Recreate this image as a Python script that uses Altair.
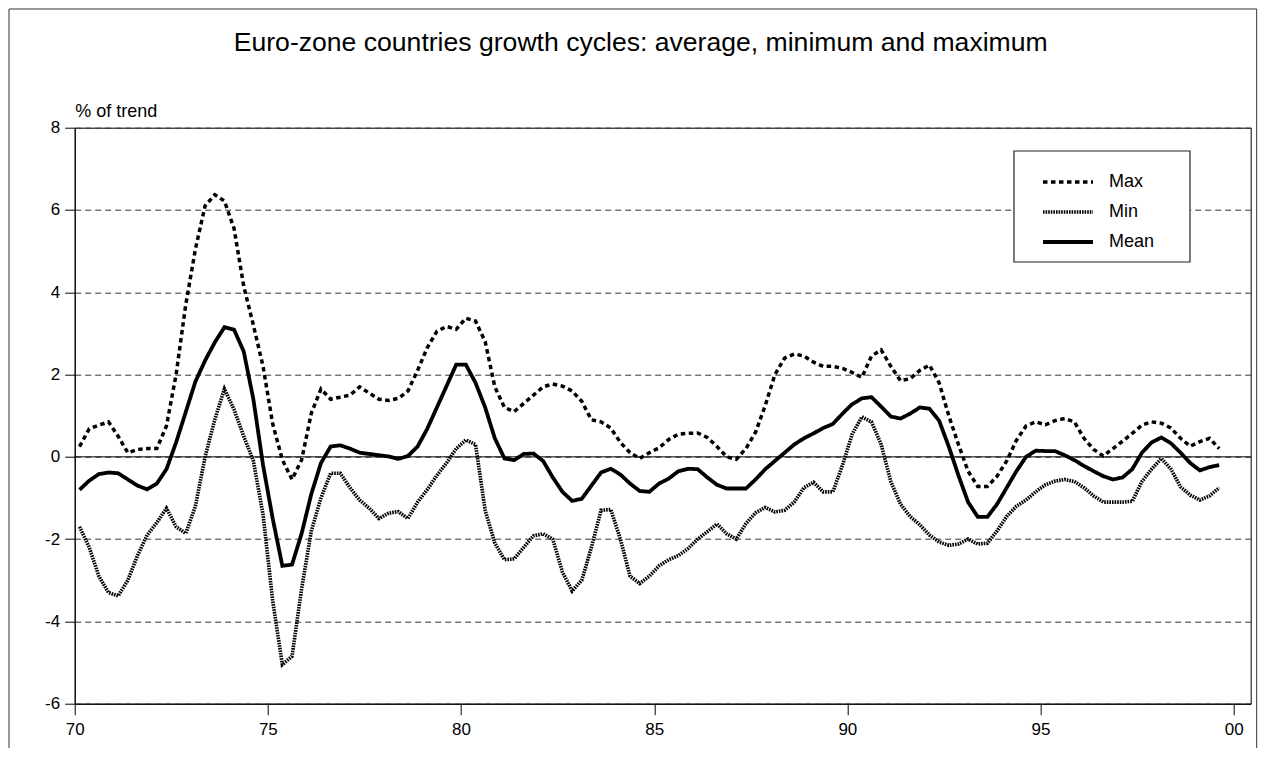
import altair as alt
import pandas as pd

# Quarterly data, 1970Q1 .. 1999Q3 (% of trend)
mean = [
    -0.80, -0.58, -0.42, -0.38, -0.40, -0.55, -0.70, -0.79, -0.65, -0.30,
    0.35, 1.09, 1.83, 2.34, 2.78, 3.15, 3.09, 2.56, 1.40, -0.20,
    -1.50, -2.65, -2.62, -1.86, -0.90, -0.15, 0.25, 0.28, 0.20, 0.10,
    0.07, 0.04, 0.01, -0.05, 0.02, 0.25, 0.68, 1.20, 1.72, 2.24,
    2.24, 1.80, 1.20, 0.45, -0.04, -0.08, 0.07, 0.08, -0.10, -0.50,
    -0.85, -1.07, -1.02, -0.70, -0.38, -0.29, -0.43, -0.65, -0.83, -0.85,
    -0.65, -0.53, -0.35, -0.29, -0.30, -0.50, -0.68, -0.77, -0.77, -0.77,
    -0.55, -0.30, -0.10, 0.10, 0.30, 0.45, 0.57, 0.70, 0.80, 1.05,
    1.28, 1.42, 1.45, 1.22, 0.98, 0.93, 1.05, 1.20, 1.17, 0.88,
    0.25, -0.45, -1.10, -1.46, -1.46, -1.15, -0.75, -0.35, 0.00, 0.15,
    0.14, 0.14, 0.04, -0.08, -0.22, -0.35, -0.47, -0.55, -0.50, -0.30,
    0.10, 0.35, 0.47, 0.33, 0.10, -0.15, -0.33, -0.25, -0.20,
]
maxv = [
    0.25, 0.68, 0.77, 0.85, 0.50, 0.10, 0.18, 0.20, 0.20, 0.75,
    2.00, 3.70, 5.05, 6.10, 6.37, 6.22, 5.55, 4.15, 3.20, 2.20,
    0.80, -0.07, -0.55, -0.07, 1.06, 1.65, 1.40, 1.45, 1.50, 1.70,
    1.55, 1.40, 1.37, 1.42, 1.60, 2.10, 2.65, 3.05, 3.17, 3.10,
    3.37, 3.30, 2.80, 1.70, 1.20, 1.10, 1.30, 1.50, 1.70, 1.77,
    1.72, 1.60, 1.35, 0.90, 0.85, 0.70, 0.35, 0.10, -0.04, 0.10,
    0.22, 0.42, 0.55, 0.57, 0.58, 0.47, 0.25, 0.00, -0.06, 0.20,
    0.60, 1.25, 2.00, 2.40, 2.50, 2.45, 2.30, 2.20, 2.20, 2.15,
    2.05, 1.93, 2.45, 2.60, 2.20, 1.85, 1.90, 2.10, 2.23, 1.80,
    1.00, 0.30, -0.35, -0.72, -0.72, -0.47, -0.10, 0.40, 0.75, 0.85,
    0.78, 0.88, 0.93, 0.85, 0.45, 0.18, 0.02, 0.20, 0.38, 0.57,
    0.77, 0.85, 0.82, 0.70, 0.45, 0.26, 0.37, 0.45, 0.20,
]
minv = [
    -1.70, -2.20, -2.90, -3.30, -3.38, -3.00, -2.40, -1.90, -1.60, -1.25,
    -1.70, -1.86, -1.20, 0.00, 0.90, 1.65, 1.15, 0.50, -0.10, -1.40,
    -3.50, -5.05, -4.85, -3.20, -1.80, -1.00, -0.40, -0.40, -0.75, -1.05,
    -1.25, -1.50, -1.37, -1.33, -1.50, -1.10, -0.80, -0.45, -0.15, 0.20,
    0.41, 0.30, -1.30, -2.10, -2.50, -2.48, -2.20, -1.92, -1.87, -2.00,
    -2.80, -3.26, -3.00, -2.20, -1.30, -1.28, -2.00, -2.90, -3.08, -2.90,
    -2.65, -2.50, -2.40, -2.23, -2.00, -1.82, -1.63, -1.87, -2.00, -1.62,
    -1.36, -1.23, -1.34, -1.30, -1.10, -0.75, -0.62, -0.85, -0.85, -0.20,
    0.55, 0.97, 0.85, 0.30, -0.60, -1.15, -1.45, -1.65, -1.90, -2.07,
    -2.15, -2.12, -2.00, -2.12, -2.10, -1.80, -1.45, -1.20, -1.05, -0.85,
    -0.68, -0.59, -0.55, -0.60, -0.75, -0.95, -1.10, -1.10, -1.10, -1.08,
    -0.60, -0.30, -0.04, -0.30, -0.73, -0.93, -1.05, -0.95, -0.75,
]

series_names = ["Max", "Min", "Mean"]
x_ticks = [70, 75, 80, 85, 90, 95, 100]
y_ticks = [-6, -4, -2, 0, 2, 4, 6, 8]

# quarter mid-points on the two-digit year axis
t = [70 + (i + 0.5) / 4 for i in range(len(mean))]

rows = []
for name, vals in zip(series_names, (maxv, minv, mean)):
    for ti, v in zip(t, vals):
        rows.append({"t": ti, "value": v, "series": name})
df = pd.DataFrame(rows)

x_scale = alt.Scale(domain=[70, 100.44], nice=False, zero=False)
y_scale = alt.Scale(domain=[-6, 8], nice=False, zero=False)

legend = alt.Legend(
    title="\u00a0",
    titleFontSize=2,
    titlePadding=6,
    orient="none",
    legendX=939.3,
    legendY=24.3,
    padding=13,
    symbolType="stroke",
    symbolSize=2500,
    symbolOffset=14,
    symbolStrokeColor="black",
    clipHeight=18,
    rowPadding=12,
    labelOffset=14,
    labelFontSize=18,
    labelColor="black",
)

lines = alt.Chart(df).mark_line(color="black", strokeCap="butt").encode(
    x=alt.X(
        "t:Q",
        scale=x_scale,
        axis=alt.Axis(
            values=x_ticks,
            labelExpr="datum.value == 100 ? '00' : '' + datum.value",
            labelFlush=False,
            grid=False,
            tickSize=11,
            labelPadding=7,
            labelFontSize=17,
            title=None,
        ),
    ),
    y=alt.Y(
        "value:Q",
        scale=y_scale,
        axis=alt.Axis(
            values=y_ticks,
            labelExpr="'' + datum.value",
            grid=True,
            tickSize=10,
            labelPadding=5,
            labelFontSize=17,
            title="% of trend",
            titleAngle=0,
            titleAlign="left",
            titleBaseline="alphabetic",
            titleX=0,
            titleY=-11,
            titleFontSize=18,
            titleFontWeight="normal",
        ),
    ),
    strokeDash=alt.StrokeDash(
        "series:N",
        scale=alt.Scale(domain=series_names, range=[[4.5, 3.5], [1.6, 1.0], [1, 0]]),
        legend=legend,
    ),
    strokeWidth=alt.StrokeWidth(
        "series:N",
        scale=alt.Scale(domain=series_names, range=[3.5, 3.8, 3]),
        legend=legend,
    ),
)

zero = alt.Chart(pd.DataFrame({"y": [0]})).mark_rule(color="black", strokeWidth=1).encode(
    y=alt.Y("y:Q", scale=y_scale)
)

# figure border and legend box (decorations)
frame = alt.Chart(pd.DataFrame({"a": [0]})).mark_rect(
    fill="transparent", stroke="#333", strokeWidth=1, clip=False
).encode(
    x=alt.value(-65.7), x2=alt.value(1182), y=alt.value(-118.7), y2=alt.value(700)
)
legend_box = alt.Chart(pd.DataFrame({"a": [0]})).mark_rect(
    fill="white", stroke="#222", strokeWidth=1.2, clip=False
).encode(
    x=alt.value(939.3), x2=alt.value(1115.3), y=alt.value(23.3), y2=alt.value(134.3)
)

chart = alt.layer(zero, lines, legend_box, frame).properties(
    width=1176,
    height=576,
    title=alt.Title(
        "Euro-zone countries growth cycles: average, minimum and maximum",
        fontSize=26.6,
        fontWeight="normal",
        color="black",
        anchor="middle",
        frame="group",
        baseline="alphabetic",
        dx=-22,
        offset=-69,
    ),
    autosize=alt.AutoSizeParams(type="none"),
    padding={"left": 66.7, "top": 119.7, "right": 7, "bottom": 44},
).configure(
    font="Liberation Sans",
).configure_view(
    stroke="black", strokeWidth=1
).configure_axis(
    domainColor="black",
    tickColor="black",
    labelColor="black",
    titleColor="black",
    gridColor="#333",
    gridDash=[6, 4],
    gridWidth=1,
    labelFont="Liberation Sans",
)

chart.save("out.html", embed_options={"renderer": "svg", "actions": False})
